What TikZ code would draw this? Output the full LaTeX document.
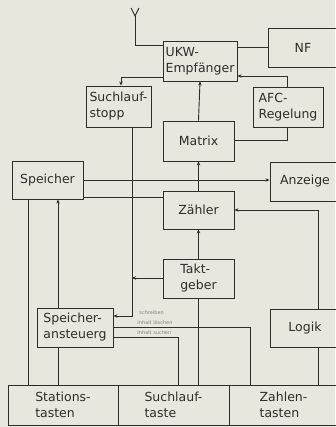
\documentclass[tikz,border=0pt]{standalone}
\usepackage{fontspec}
\setmainfont{DejaVu Sans}
\usepackage{xcolor}
\usepackage{tikz}
\usetikzlibrary{arrows.meta,positioning}

\definecolor{paper}{RGB}{231,231,221}
\definecolor{ink}{RGB}{45,45,42}

\begin{document}
\begin{tikzpicture}[x=1pt, y=-1pt, line width=0.9pt, ink,
    blk/.style={draw=ink, inner sep=1pt, align=left, font=\fontsize{12.5}{16}\selectfont},
    tip/.style={-{Stealth[length=4pt,width=3.5pt]}},
    tiny/.style={font=\fontsize{5}{6}\selectfont, text=ink!60, inner sep=0pt, anchor=west}]
  \fill[paper] (0,0) rectangle (335,427);
  \useasboundingbox (0,0) rectangle (335,427);

  % Bloecke
  \node[blk, minimum width=74, minimum height=40] (ukw) at (200,61) {UKW-\\Empfänger};
  \node[blk, minimum width=70, minimum height=39] (nf) at (303,47.5) {NF};
  \node[blk, minimum width=65, minimum height=41] (sstop) at (118.5,106.5) {Suchlauf-\\stopp};
  \node[blk, minimum width=70, minimum height=40] (afc) at (288,107) {AFC-\\Regelung};
  \node[blk, minimum width=71, minimum height=40] (matrix) at (198.5,141) {Matrix};
  \node[blk, minimum width=71, minimum height=38] (speicher) at (47.5,180) {Speicher};
  \node[blk, minimum width=70, minimum height=39] (anzeige) at (305,181.5) {Anzeige};
  \node[blk, minimum width=71, minimum height=38] (zahler) at (198.5,210) {Zähler};
  \node[blk, minimum width=71, minimum height=39] (takt) at (198.5,278.5) {Takt-\\geber};
  \node[blk, minimum width=76, minimum height=39] (sast) at (75,327.5) {Speicher-\\ansteuerg};
  \node[blk, minimum width=70, minimum height=38] (logik) at (305,328) {Logik};
  \node[blk, minimum width=110, minimum height=40] (stat) at (63,405) {Stations-\\tasten};
  \node[blk, minimum width=111, minimum height=40] (sucht) at (173.5,405) {Suchlauf-\\taste};
  \node[blk, minimum width=109, minimum height=40] (zahlt) at (283.5,405) {Zahlen-\\tasten};

  % Antenne
  \coordinate (ant) at (135,16);
  \draw (131,8) -- (ant) -- (139,8);
  \draw (ant) |- (ukw.west |- 0,45);
  \draw (ukw.east |- 0,47) -- (nf.west |- 0,47);

  % Verbindungen
  \draw[tip] (ukw.west |- 0,77) -| (sstop.north -| 121,0);
  \draw[tip] (afc.north -| 287,0) |- (ukw.east |- 0,76);
  \draw[tip] (matrix.north) -- (ukw.south);
  \draw (matrix.east |- 0,140) -| (afc.south -| 287,0);
  \draw[tip] (zahler.north) -- (matrix.south);
  \draw[tip] (speicher.east) -- (anzeige.west |- speicher.east);
  \draw (speicher.east |- 0,197) -- (zahler.west |- 0,197);
  \draw[tip] (logik.north -| 318,0) |- (zahler.east);
  \draw[tip] (takt.north) -- (zahler.south);
  \draw[tip] (sstop.south -| 132,0) |- (sast.east |- 0,316);
  \coordinate (tj) at (132,278);
  \draw[tip] (takt.west |- tj) -- (tj);
  \draw (speicher.south -| 28,0) -- (stat.north -| 28,0);
  \draw[tip] (sast.north -| 58,0) -- (speicher.south -| 58,0);
  \draw (sast.south -| 58,0) -- (stat.north -| 58,0);
  \draw (sast.east |- 0,327) -| (zahlt.north -| 250,0);
  \draw (sast.east |- 0,337) -| (sucht.north -| 178,0);
  \draw (takt.south) -- (takt.south |- sucht.north);
  \draw (logik.south -| 318,0) -- (zahlt.north -| 318,0);

  % Beschriftung
  \node[tiny] (l1) at (139,313) {schreiben};
  \node[tiny] (l2) at (137,323) {Inhalt löschen};
  \node[tiny] (l3) at (137,333) {Inhalt suchen};
\end{tikzpicture}
\end{document}
